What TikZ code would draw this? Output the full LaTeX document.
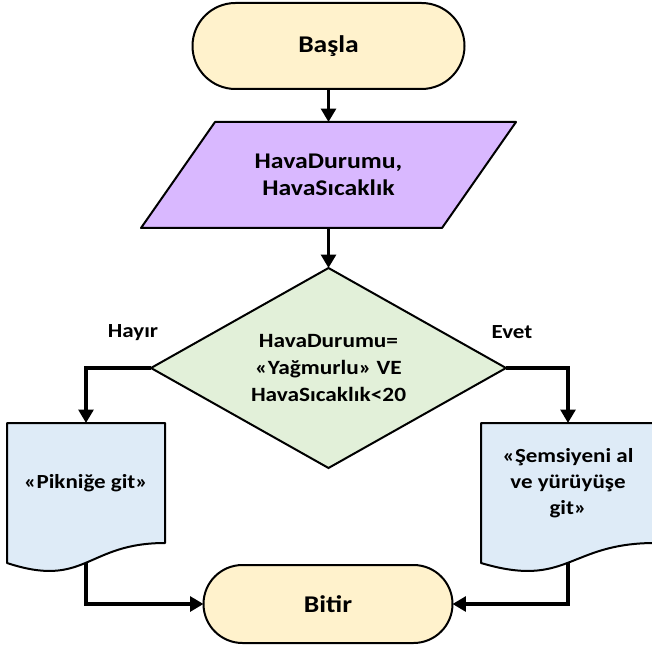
\documentclass[tikz,border=0pt]{standalone}
\usepackage{fontspec}
\setmainfont{Carlito}[FakeStretch=1.15]
\usetikzlibrary{shapes.geometric,shapes.misc,arrows.meta,backgrounds}
\definecolor{termfill}{HTML}{FFF2CC}
\definecolor{iofill}{RGB}{217,184,255}
\definecolor{decfill}{HTML}{E2F0D9}
\definecolor{docfill}{HTML}{DEEBF7}
\begin{document}
\begin{tikzpicture}[x=0.75pt,y=-0.75pt,
  base/.style={align=center, line width=1.5pt, draw=black, inner sep=0pt, outer sep=0pt},
  term/.style={base, rounded rectangle, fill=termfill, font=\fontsize{18}{21}\selectfont\bfseries},
  iobox/.style={base, draw=none, rectangle, minimum width=225.75pt, minimum height=79.5pt, font=\fontsize{16.8}{20.25}\selectfont\bfseries},
  iopath/.style={line width=1.5pt, fill=iofill, draw=black, line join=round},
  dec/.style={base, diamond, fill=decfill, aspect=1.775, minimum width=266.25pt, minimum height=150pt, font=\fontsize{15.2}{20}\selectfont\bfseries},
  docbox/.style={base, draw=none, rectangle, minimum height=90pt, font=\fontsize{15}{19.5}\selectfont\bfseries},
  docpath/.style={line width=1.5pt, fill=docfill, draw=black, line join=round},
  arr/.style={line width=2.6pt, -{Triangle[length=10pt,width=11pt]}},
  lab/.style={font=\fontsize{15}{18}\selectfont\bfseries}
]
\useasboundingbox (0,0) rectangle (652,648);
\node[term, minimum width=204pt, minimum height=64.5pt] (start) at (328.5,46) {Başla};
\node[iobox] (io) at (328.5,175) {HavaDurumu,\\HavaSıcaklık};
\node[dec] (dec) at (328.5,368) {HavaDurumu=\\«Yağmurlu» VE\\HavaSıcaklık<20};
\node[docbox, minimum width=118.5pt] (d1) at (86,483) {«Pikniğe git»};
\node[docbox, minimum width=130.5pt] (d2) at (568,483) {«Şemsiyeni al\\ve yürüyüşe\\git»};
\node[term, minimum width=186.75pt, minimum height=58.5pt] (end) at (328,604) {Bitir};
\node[lab] (no) at (133,333) {Hayır};
\node[lab] (yes) at (512,332) {Evet};
\begin{scope}[on background layer]
\draw[iopath] ([xshift=-27.75pt]io.south west) -- ([xshift=27.75pt]io.north west) -- ([xshift=27.75pt]io.north east) -- ([xshift=-27.75pt]io.south east) -- cycle;
\draw[docpath] (d1.south east) .. controls (d1.south) and ([yshift=-34.5pt]d1.south) .. ([yshift=-15pt]d1.south west) -- (d1.north west) -- (d1.north east) -- cycle;
\draw[docpath] (d2.south east) .. controls (d2.south) and ([yshift=-34.5pt]d2.south) .. ([yshift=-15pt]d2.south west) -- (d2.north west) -- (d2.north east) -- cycle;
\end{scope}
\draw[arr] (start.south) -- (io.north);
\draw[arr] (io.south) -- (dec.north);
\draw[arr] (dec.west) -| (d1.north);
\draw[arr] (dec.east) -| (d2.north);
\draw[arr] ([yshift=-15pt]d1.south) |- (end.west);
\draw[arr] ([yshift=-15pt]d2.south) |- (end.east);
\end{tikzpicture}
\end{document}
